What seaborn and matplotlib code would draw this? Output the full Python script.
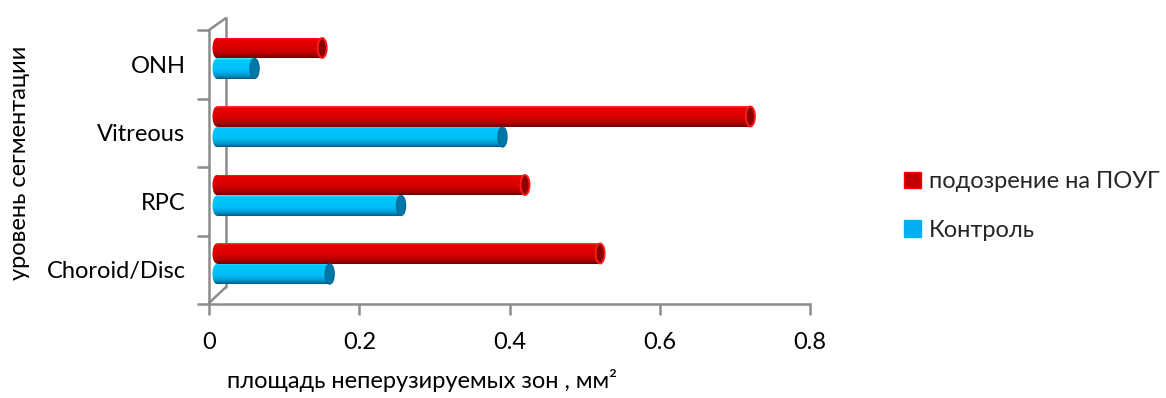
import numpy as np
import pandas as pd
import matplotlib
matplotlib.use("Agg")
import matplotlib.pyplot as plt
import seaborn as sns
from matplotlib.patches import Ellipse, Patch
from matplotlib.colors import LinearSegmentedColormap
from matplotlib.transforms import ScaledTranslation
from matplotlib.lines import Line2D

# ---- data ----
segments = ["ONH", "Vitreous", "RPC", "Choroid/Disc"]
groups = ["подозрение на ПОУГ", "Контроль"]
suspected = [0.14, 0.71, 0.41, 0.51]
control = [0.05, 0.38, 0.245, 0.15]
x_ticks = [0, 0.2, 0.4, 0.6, 0.8]
x_tick_labels = ["0", "0.2", "0.4", "0.6", "0.8"]
x_title = "площадь неперузируемых зон , мм²"
y_title = "уровень сегментации"

df = pd.DataFrame({
    "segment": segments * 2,
    "group": [groups[0]] * len(segments) + [groups[1]] * len(segments),
    "area": suspected + control,
})

sns.set_theme(style="white")
plt.rcParams["font.family"] = ["Lato", "DejaVu Sans"]
FS = 17
GRAY = "#8C8C8C"

W, H = 1166, 398
fig = plt.figure(figsize=(W / 100, H / 100), dpi=100)
ax = fig.add_axes([209 / W, 94 / H, 601 / W, 274 / H])

palette = {groups[0]: "#D00000", groups[1]: "#00BBF2"}
sns.barplot(data=df, y="segment", x="area", hue="group", order=segments,
            hue_order=groups, palette=palette, width=0.6, orient="h",
            saturation=1, legend=False, ax=ax)

ax.set_xlim(0, 0.8)
ax.set_ylim(3.5, -0.5)

# cylinder look: gradient body, rounded start, shaded end cap
grad_maps = {
    groups[0]: LinearSegmentedColormap.from_list("red_cyl", [
        (0.0, "#FF3A3A"), (0.1, "#EA0000"), (0.55, "#D60000"),
        (0.8, "#B40000"), (1.0, "#700000")]),
    groups[1]: LinearSegmentedColormap.from_list("blue_cyl", [
        (0.0, "#5ADCFF"), (0.1, "#00C8FF"), (0.6, "#00BDF5"),
        (0.82, "#009AD0"), (1.0, "#005E8A")]),
}
cap_style = {
    groups[0]: dict(facecolor="#8A0000", edgecolor="#FF1A1A", linewidth=1.4),
    groups[1]: dict(facecolor="#0077A6", edgecolor="#006A96", linewidth=1.0),
}

fig.canvas.draw()
shift = ScaledTranslation(8 / 100, 6 / 100, fig.dpi_scale_trans)
bar_tr = ax.transData + shift
px_per_unit = ax.transData.transform((1, 0))[0] - ax.transData.transform((0, 0))[0]
cap_w = 9 / px_per_unit
grad = np.linspace(0, 1, 80).reshape(-1, 1)

for container, grp in zip(ax.containers, groups):
    cmap = grad_maps[grp]
    for rect in container:
        x0, y0 = rect.get_x(), rect.get_y()
        w, h = rect.get_width(), rect.get_height()
        yc = y0 + h / 2
        rect.set_transform(bar_tr)
        rect.set_facecolor("none")
        rect.set_linewidth(0)

        body = ax.imshow(grad, cmap=cmap, aspect="auto", origin="upper",
                         extent=(x0, x0 + w, y0 + h, y0), transform=bar_tr,
                         zorder=2, interpolation="bilinear")
        body.set_clip_path(rect)

        start = Ellipse((x0, yc), cap_w, h, transform=bar_tr,
                        facecolor="none", linewidth=0)
        ax.add_patch(start)
        start_img = ax.imshow(grad, cmap=cmap, aspect="auto", origin="upper",
                              extent=(x0 - cap_w, x0 + cap_w, y0 + h, y0),
                              transform=bar_tr, zorder=2,
                              interpolation="bilinear")
        start_img.set_clip_path(start)

        end = Ellipse((x0 + w, yc), cap_w, h * 0.97, transform=bar_tr,
                      zorder=3, **cap_style[grp])
        ax.add_patch(end)

ax.set_xlim(0, 0.8)
ax.set_ylim(3.5, -0.5)

# axes styling
for side in ["top", "right"]:
    ax.spines[side].set_visible(False)
for side in ["left", "bottom"]:
    ax.spines[side].set_color(GRAY)
    ax.spines[side].set_linewidth(1.8)

ax.set_xticks(x_ticks)
ax.set_xticklabels(x_tick_labels)
ax.tick_params(axis="x", which="major", direction="out", length=8, width=1.8,
               color=GRAY, pad=12, labelsize=FS, labelcolor="#000000",
               bottom=True)
ax.set_yticks(range(len(segments)))
ax.set_yticklabels(segments)
ax.tick_params(axis="y", which="major", length=0, pad=17, labelsize=FS,
               labelcolor="#000000")
ax.set_yticks(np.arange(-0.5, len(segments), 1.0), minor=True)
ax.tick_params(axis="y", which="minor", direction="out", length=9, width=1.8,
               color=GRAY, left=True)

ax.set_xlabel(x_title, fontsize=FS, color="#000000")
ax.xaxis.label.set_va("center")
ax.xaxis.set_label_coords((422 - 209) / 601, (304 - 381) / 274)
ax.set_ylabel(y_title, fontsize=FS, color="#000000")
ax.yaxis.label.set_va("center")
ax.yaxis.set_label_coords((20 - 209) / 601, (304 - 163) / 274)

# 3-D back wall and floor edges
def fig_pt(px, py):
    return px / W, 1 - py / H

wall = [((209, 30), (226, 18)), ((226, 18), (226, 287)), ((226, 287), (209, 303))]
for (a, b) in wall:
    p, q = fig_pt(*a), fig_pt(*b)
    ax.add_line(Line2D([p[0], q[0]], [p[1], q[1]], transform=fig.transFigure,
                       color=GRAY, linewidth=1.8, zorder=1, clip_on=False))

handles = [Patch(facecolor="#C00000", edgecolor="#FF0000", linewidth=1),
           Patch(facecolor="#00B0F0", edgecolor="#00B0F0", linewidth=1)]
ax.legend(handles, groups, loc="center left",
          bbox_to_anchor=(904 / W, 1 - 206 / H), bbox_transform=fig.transFigure,
          frameon=False, fontsize=FS, handlelength=0.7, handleheight=0.7,
          handletextpad=0.35, labelspacing=1.15, borderpad=0, borderaxespad=0)

fig.savefig("out.png", dpi=100)
